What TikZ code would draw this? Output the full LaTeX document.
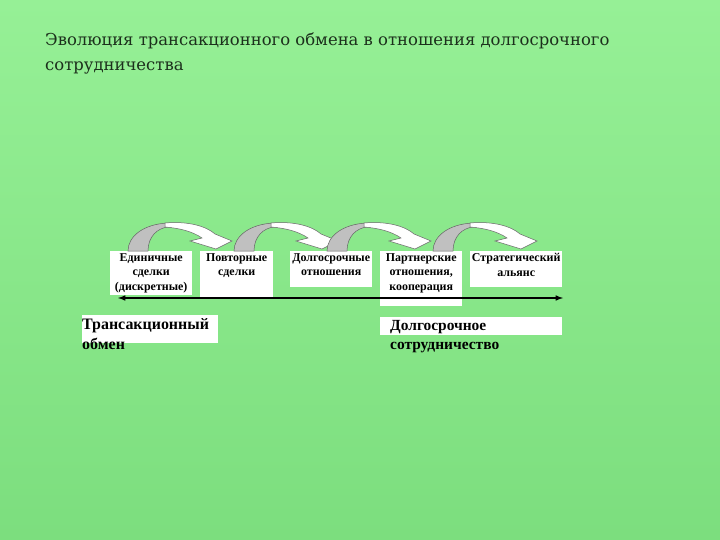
\documentclass[tikz,border=0pt]{standalone}
\usepackage{fontspec}
\setmainfont{Liberation Serif}
\newfontfamily\titlefont{DejaVu Serif}
\usepackage{xcolor}
\usepackage{tikz}
\usetikzlibrary{decorations,arrows,shapes}

\definecolor{bgtop}{RGB}{150,240,150}
\definecolor{bgbot}{RGB}{124,222,126}
\definecolor{titlegreen}{RGB}{28,48,28}
\definecolor{archgray}{RGB}{192,192,192}

\begin{document}
\begin{tikzpicture}[
    stagebox/.style={fill=white,anchor=north west,inner sep=0pt},
    stagetext/.style={anchor=north,align=center,inner sep=2.5bp,
      font=\bfseries\fontsize{12}{14.5}\selectfont},
    sumtext/.style={anchor=north west,align=left,inner sep=0pt}]
    % background and frame
    \useasboundingbox (0bp,0bp) rectangle (720bp,-540bp);
    \shade[top color=bgtop,bottom color=bgbot] (0bp,0bp) rectangle (720bp,-540bp);

    \node (title) at (45bp,-33bp)[anchor=north west,align=left,inner sep=0pt,
      text=titlegreen,font=\titlefont\fontsize{16.5}{25}\selectfont]
      {Эволюция трансакционного обмена в отношения долгосрочного\\сотрудничества};

    % stages
    \node (single) at (110bp,-251bp)[stagebox,minimum width=82bp,minimum height=44bp] {};
    \node (repeat) at (200bp,-251bp)[stagebox,minimum width=73bp,minimum height=47bp] {};
    \node (long) at (290bp,-251bp)[stagebox,minimum width=82bp,minimum height=36bp] {};
    \node (partner) at (380bp,-251bp)[stagebox,minimum width=82bp,minimum height=55bp] {};
    \node (alliance) at (470bp,-251bp)[stagebox,minimum width=92bp,minimum height=36bp] {};

    \node (singlet) at (single.north)[stagetext] {Единичные\\сделки\\(дискретные)};
    \node (repeatt) at (repeat.north)[stagetext] {Повторные\\сделки};
    \node (longt) at (long.north)[stagetext] {Долгосрочные\\отношения};
    \node (partnert) at (partner.north)[stagetext] {Партнерские\\отношения,\\кооперация};
    \node (alliancet) at (alliance.north)[stagetext] {Стратегический\\альянс};

    % scale line
    \coordinate (left) at (118bp,-298bp);
    \coordinate (right) at (563bp,-298bp);
    \draw [latex-latex,line width=1.5bp] (left) -- (right);

    % curved arrows
    \foreach \x in {128,234,327,433} {
      \begin{scope}[xshift=\x bp,x=1bp,y=-1bp,draw=black!60,line width=0.5bp]
        \filldraw[fill=archgray] (0,251) .. controls (0,236) and (16,224) .. (40,223)
          -- (40,227) .. controls (30,228) and (20,236) .. (20,251) -- cycle;
        \filldraw[fill=white] (37,223) .. controls (60,221) and (78,226) .. (87,234)
          -- (104,241) -- (88,249) -- (62,241) -- (74,238)
          .. controls (64,231) and (50,228) .. (37,227) -- cycle;
      \end{scope}
    }

    % summary labels
    \fill[white] (82bp,-315bp) rectangle (218bp,-343bp);
    \fill[white] (380bp,-317bp) rectangle (562bp,-335bp);
    \node (trans) at (82bp,-318bp)[sumtext,font=\bfseries\fontsize{16}{20}\selectfont]
      {Трансакционный\\обмен};
    \node (coop) at (390bp,-320bp)[sumtext,font=\bfseries\fontsize{15.5}{19}\selectfont]
      {Долгосрочное\\сотрудничество};
\end{tikzpicture}
\end{document}
